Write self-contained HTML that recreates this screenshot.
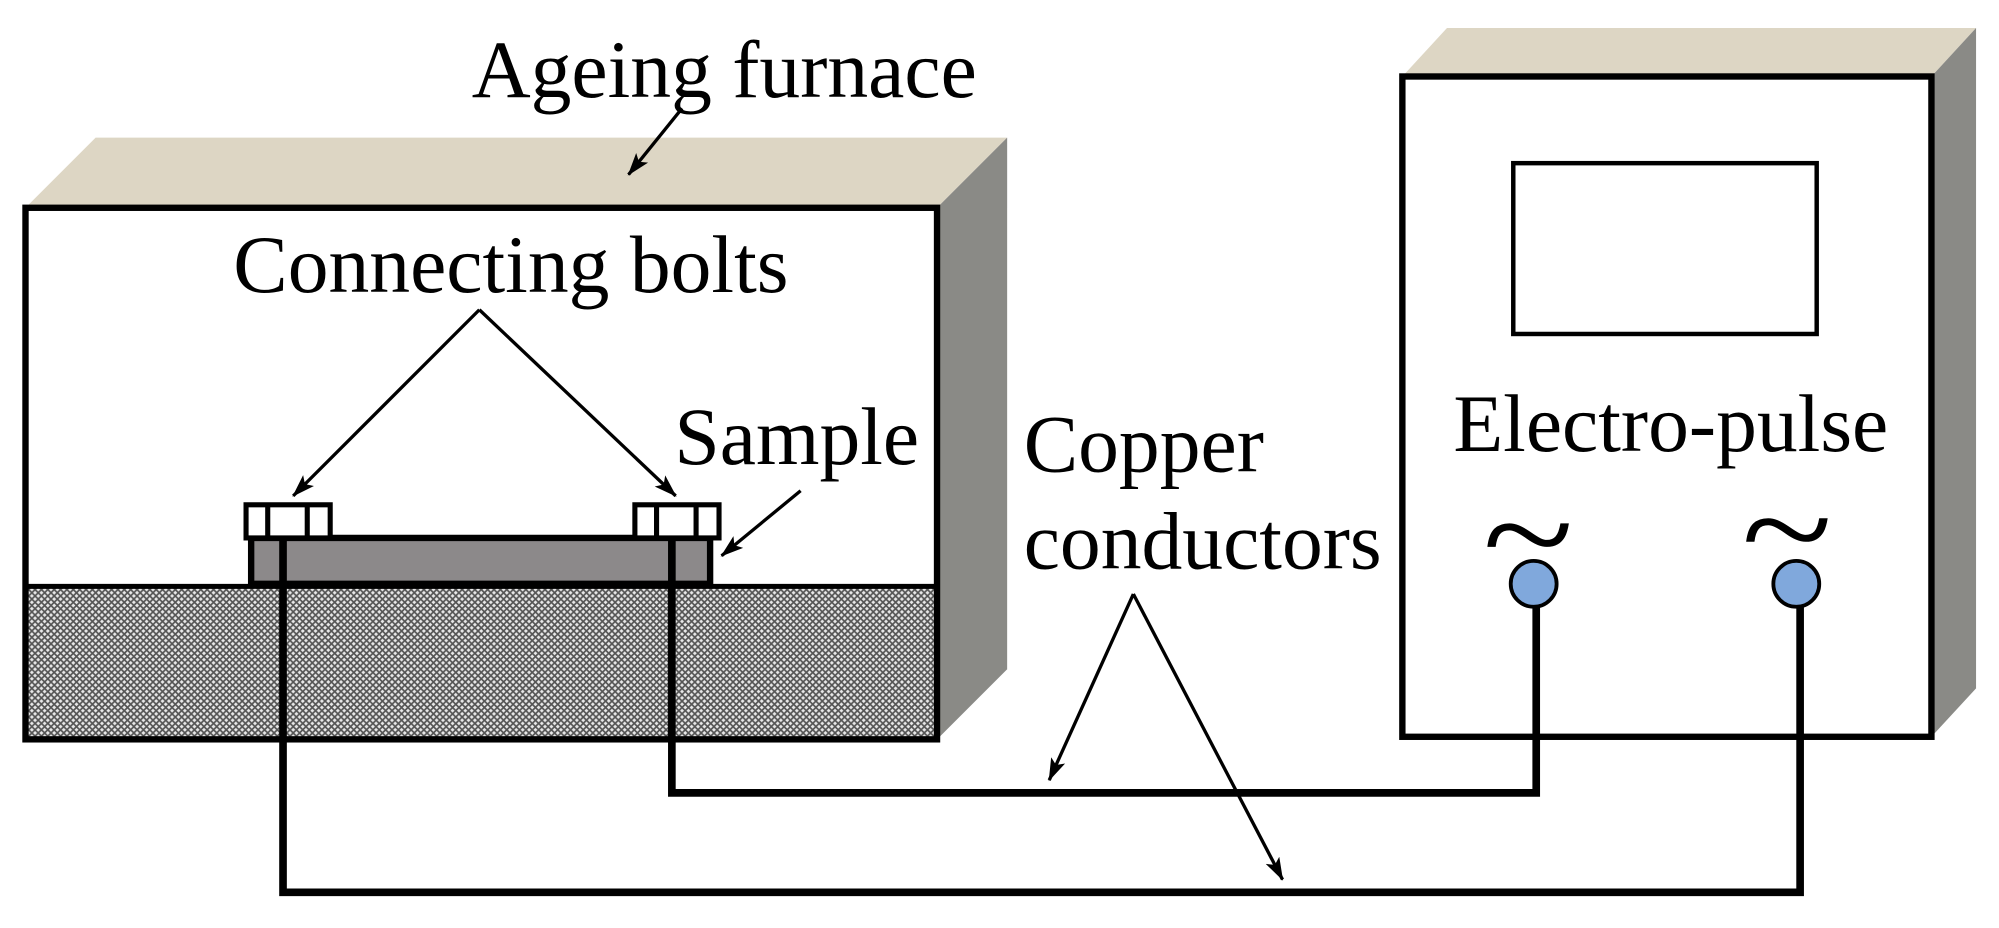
<!DOCTYPE html>
<html><head><style>html,body{margin:0;padding:0;background:#fff}svg{display:block}</style></head>
<body>
<svg width="1999" height="928" viewBox="0 0 1568 728" preserveAspectRatio="none" xmlns="http://www.w3.org/2000/svg">
<defs>
<pattern id="hatch" width="5" height="5" patternUnits="userSpaceOnUse">
<rect width="5" height="5" fill="#e8e8e8"/>
<path d="M0 0L5 5M5 0L0 5" stroke="#555" stroke-width="1.3"/>
</pattern>
<marker id="ah" markerWidth="18" markerHeight="14" refX="17" refY="7" orient="auto" markerUnits="userSpaceOnUse">
<path d="M0 1L18 7L0 13L4 7z" fill="#000"/>
</marker>
</defs>
<polygon points="20,163 75,108 790,108 735,163" fill="#ddd6c4"/>
<polygon points="735,163 790,108 790,525 735,580" fill="#8a8a86"/>
<rect x="20" y="163" width="715" height="417" fill="#fff"/>
<rect x="20" y="460" width="715" height="120" fill="url(#hatch)"/>
<line x1="20" y1="460" x2="735" y2="460" stroke="#000" stroke-width="4"/>
<rect x="20" y="163" width="715" height="417" fill="none" stroke="#000" stroke-width="5"/>
<rect x="197" y="422" width="360" height="36" fill="#8c898a" stroke="#000" stroke-width="5"/>
<rect x="193" y="396" width="66" height="26" fill="#fff" stroke="#000" stroke-width="4"/>
<line x1="210" y1="396" x2="210" y2="422" stroke="#000" stroke-width="4"/>
<line x1="241" y1="396" x2="241" y2="422" stroke="#000" stroke-width="4"/>
<rect x="498" y="396" width="66" height="26" fill="#fff" stroke="#000" stroke-width="4"/>
<line x1="515" y1="396" x2="515" y2="422" stroke="#000" stroke-width="4"/>
<line x1="546" y1="396" x2="546" y2="422" stroke="#000" stroke-width="4"/>
<polygon points="1100,60 1135,22 1550,22 1515,60" fill="#ddd6c4"/>
<polygon points="1515,60 1550,22 1550,540 1515,578" fill="#8a8a86"/>
<rect x="1100" y="60" width="415" height="518" fill="#fff" stroke="#000" stroke-width="5"/>
<rect x="1187" y="128" width="238" height="134" fill="#fff" stroke="#000" stroke-width="3.5"/>
<polyline points="222,422 222,700 1412,700 1412,470" fill="none" stroke="#000" stroke-width="6"/>
<polyline points="527,422 527,622 1205,622 1205,470" fill="none" stroke="#000" stroke-width="6"/>
<circle cx="1203" cy="458" r="18" fill="#80a8dc" stroke="#000" stroke-width="3"/>
<circle cx="1409" cy="458" r="18" fill="#80a8dc" stroke="#000" stroke-width="3"/>
<g font-family="Liberation Serif, serif" font-size="64" fill="#000">
<text x="370" y="76">Ageing furnace</text>
<text x="183" y="229">Connecting bolts</text>
<text x="529" y="364">Sample</text>
<text x="803" y="370">Copper</text>
<text x="803" y="446">conductors</text>
<text x="1140" y="354">Electro-pulse</text>
<text font-size="110" transform="translate(1163 456) scale(1.2 1)">~</text>
<text font-size="110" transform="translate(1366 452) scale(1.2 1)">~</text>
</g>
<g stroke="#000" stroke-width="2.6" marker-end="url(#ah)">
<line x1="535" y1="85" x2="493" y2="137"/>
<line x1="376" y1="243" x2="230" y2="389"/>
<line x1="376" y1="243" x2="530" y2="389"/>
<line x1="628" y1="385" x2="566" y2="436"/>
<line x1="889" y1="466" x2="823" y2="612"/>
<line x1="889" y1="466" x2="1006" y2="690"/>
</g>
</svg>
</body></html>
